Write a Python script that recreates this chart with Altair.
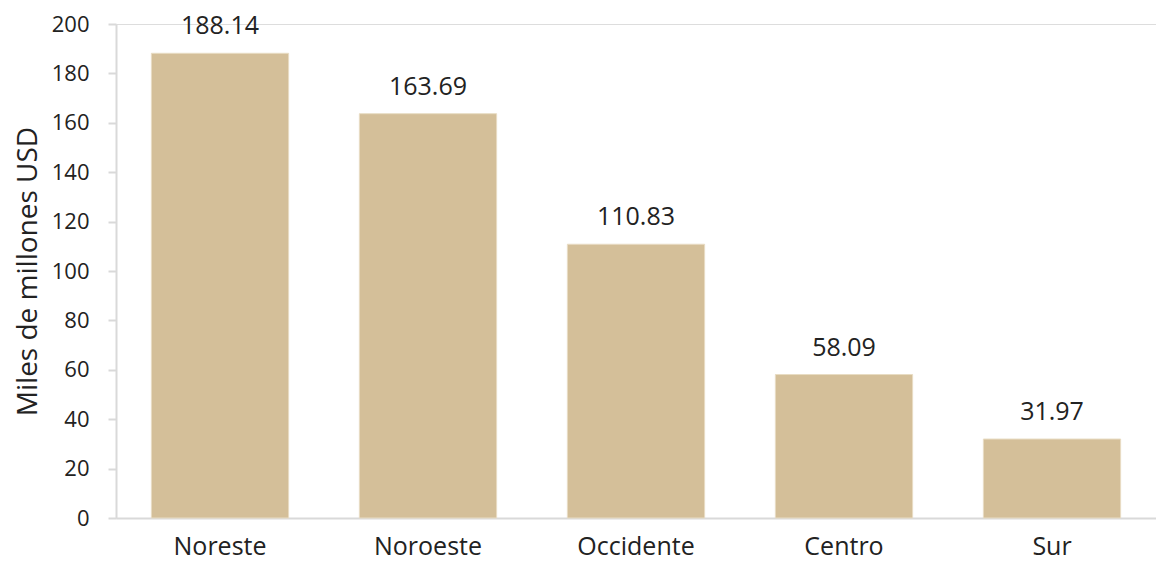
import altair as alt
import pandas as pd

regions = ["Noreste", "Noroeste", "Occidente", "Centro", "Sur"]
values = [188.14, 163.69, 110.83, 58.09, 31.97]

df = pd.DataFrame({"region": regions, "value": values})
df["label"] = [f"{v:.2f}" for v in values]

FONT = "Open Sans"
BAR = "#D4BF99"

base = alt.Chart(df).encode(
    x=alt.X("region:N", sort=regions, title=None,
            scale=alt.Scale(paddingInner=0.34, paddingOuter=0.17),
            axis=alt.Axis(labelAngle=0, labelFontSize=25, labelFont=FONT, labelColor="#222222",
                          labelPadding=16, ticks=False, domainColor="#D9D9D9", domainWidth=2)),
)

bars = base.mark_bar(color=BAR, stroke="#E8DCC4", strokeWidth=1).encode(
    y=alt.Y("value:Q", title="Miles de millones USD",
            scale=alt.Scale(domain=[0, 200]),
            axis=alt.Axis(values=list(range(0, 201, 20)), grid=False, labelFontSize=22,
                          labelFont=FONT, labelColor="#222222", labelPadding=19,
                          tickSize=8, tickColor="#D9D9D9", tickWidth=2,
                          domainColor="#D9D9D9", domainWidth=2,
                          titleFont=FONT, titleFontSize=28, titleFontWeight="normal",
                          titleColor="#222222", titlePadding=9))
)

labels = base.mark_text(baseline="bottom", dy=-14, fontSize=25, font=FONT, color="#222222").encode(
    y="value:Q", text="label:N"
)

chart = (bars + labels).properties(
    width=1040, height=494,
    padding={"top": 5, "left": 6, "right": 0, "bottom": 2},
).configure_view(stroke=None).configure(background="white")

chart.save("out.html", embed_options={"renderer": "svg", "actions": False})
